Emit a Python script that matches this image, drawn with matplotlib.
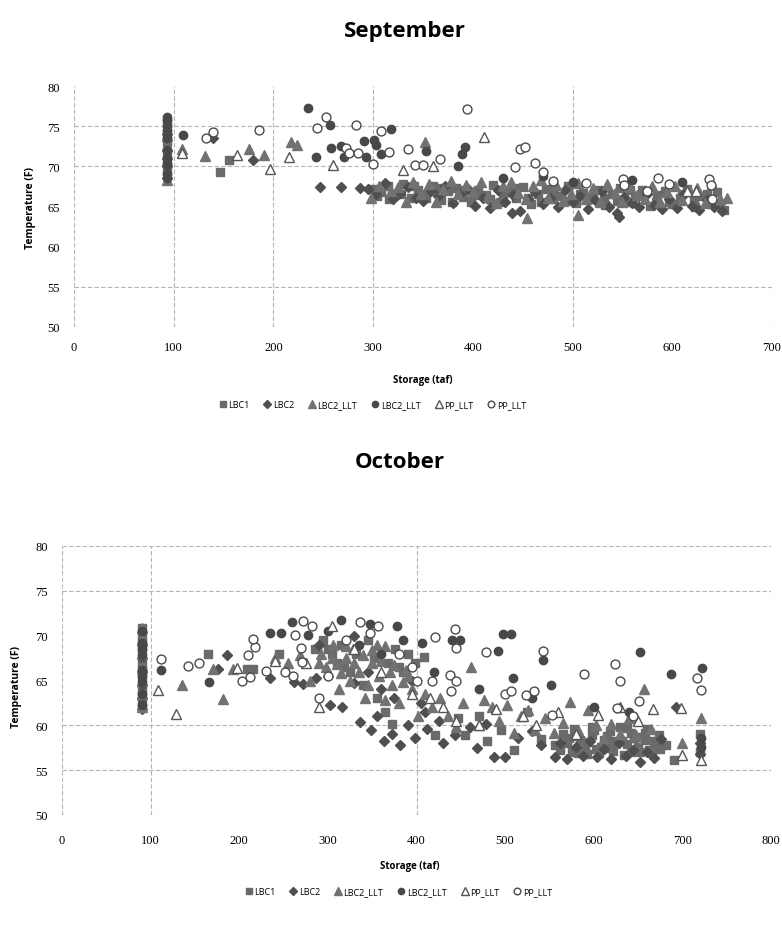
import numpy as np
import matplotlib
matplotlib.use("Agg")
import matplotlib.pyplot as plt

labels = ["LBC1", "LBC2", "LBC2_LLT", "LBC2_LLT", "PP_LLT", "PP_LLT"]

# ---------------- September ----------------
sep_sq_x = [93, 93, 93, 93, 93, 93, 146, 155,
            300, 308, 315, 322, 330, 338, 345, 352, 360, 368, 375, 383, 390, 398, 405, 413, 420, 428,
            435, 443, 450, 458, 465, 473, 480, 488, 495, 503, 510, 518, 525, 533, 540, 548, 555, 563,
            570, 578, 585, 593, 600, 608, 615, 623, 630, 638, 645, 652,
            304, 316, 328, 341, 353, 366, 379, 392, 404, 417, 430, 442, 455, 468, 481, 494, 507, 520,
            532, 545, 558, 571, 584, 597, 610, 622, 635, 648]
sep_sq_y = [69.5, 70.5, 71.8, 73.0, 74.0, 75.5, 69.3, 70.8,
            67.2, 66.8, 67.5, 66.4, 67.8, 66.0, 67.1, 66.5, 67.6, 65.8, 66.9, 67.3, 66.2, 65.6, 67.0, 66.4, 67.7, 65.5,
            66.8, 66.1, 67.4, 65.3, 66.6, 67.2, 65.9, 66.3, 67.5, 65.4, 66.7, 66.0, 67.1, 65.2, 66.5, 67.3, 65.6, 66.2,
            67.0, 65.1, 66.4, 66.9, 65.3, 66.1, 67.2, 65.0, 66.3, 65.7, 66.8, 64.6,
            66.3, 65.9, 66.6, 67.5, 66.0, 67.3, 65.6, 67.0, 66.4, 65.9, 66.6, 67.3, 66.1, 65.5, 67.0, 65.7, 66.5, 65.9,
            66.0, 65.7, 67.0, 66.4, 65.6, 65.5, 66.6, 66.0, 66.5, 65.3]

sep_di_x = [93, 93, 93, 139, 180, 247, 268,
            287, 295, 303, 312, 320, 327, 335, 343, 350, 358, 365, 372, 380, 387, 395, 402, 410, 417,
            425, 432, 439, 440, 447, 455, 462, 470, 477, 485, 492, 500, 507, 515, 522, 530, 537, 545, 547,
            552, 560, 567, 575, 582, 590, 597, 605, 612, 620, 627, 635, 642, 650]
sep_di_y = [68.5, 70.0, 74.0, 73.5, 70.8, 67.4, 67.4,
            67.3, 67.2, 66.5, 67.9, 65.9, 66.7, 67.4, 66.1, 65.7, 66.9, 66.3, 67.5, 65.4, 66.6, 67.2, 65.1, 66.0, 64.8,
            67.0, 65.6, 64.2, 66.4, 64.4, 65.9, 66.8, 65.3, 66.1, 64.9, 67.1, 65.5, 66.3, 64.7, 65.8, 66.9, 65.0, 64.2, 63.7,
            66.2, 65.4, 64.9, 66.6, 65.2, 64.7, 65.9, 64.8, 66.5, 65.1, 64.6, 65.8, 65.0, 64.5]

sep_tri_x = [93, 93, 93, 93, 108, 131, 176, 191, 218, 224, 352,
             298, 306, 318, 325, 333, 340, 348, 356, 363, 370, 378, 385, 393, 400, 408, 415, 423, 430,
             438, 445, 453, 454, 460, 468, 475, 483, 490, 498, 505, 505, 513, 520, 528, 535, 543, 550, 558,
             565, 573, 580, 588, 595, 603, 610, 618, 625, 633, 640, 648, 655]
sep_tri_y = [68.3, 71.5, 72.5, 73.8, 72.2, 71.3, 72.2, 71.4, 73.0, 72.6, 73.0,
             66.0, 67.6, 66.9, 67.4, 65.6, 68.0, 66.6, 67.8, 65.5, 67.2, 68.2, 66.5, 67.7, 66.8, 68.1, 66.3, 65.4, 67.6,
             68.0, 66.7, 65.9, 63.6, 67.5, 68.3, 66.0, 67.7, 65.7, 66.6, 67.9, 63.9, 65.9, 67.3, 65.5, 67.8, 66.7, 65.6, 67.4,
             66.4, 65.9, 67.6, 65.6, 66.8, 67.5, 65.8, 66.9, 67.3, 65.4, 67.8, 65.9, 66.1]

sep_ci_x = [93, 93, 93, 93, 93, 93, 93, 93, 93, 93, 109, 235, 243, 257, 258, 268, 271, 291, 293, 301, 303, 308,
            318, 353, 392, 389, 385, 470, 430, 500, 560, 610]
sep_ci_y = [68.5, 69.0, 70.3, 71.0, 72.0, 73.5, 74.5, 75.0, 75.8, 76.2, 73.9, 77.2, 71.2, 75.1, 72.3, 72.5, 71.2,
            73.1, 71.2, 73.3, 72.6, 71.5, 74.6, 71.9, 72.4, 71.5, 70.1, 68.8, 68.5, 68.0, 68.3, 68.1]

sep_otri_x = [108, 163, 197, 216, 260, 411, 615, 624, 330, 360]
sep_otri_y = [71.6, 71.4, 69.7, 71.2, 70.2, 73.6, 66.9, 66.9, 69.5, 70.0]

sep_oci_x = [132, 139, 186, 244, 253, 273, 276, 285, 283, 300, 308, 316, 335, 342, 350, 367, 394,
             447, 452, 462, 470, 442, 480, 513, 551, 552, 586, 575, 597, 637, 639, 640]
sep_oci_y = [73.5, 74.3, 74.5, 74.8, 76.2, 72.3, 71.6, 71.6, 75.2, 70.3, 74.4, 71.8, 72.2, 70.2, 70.2,
             70.9, 77.1, 72.2, 72.4, 70.4, 69.3, 69.9, 68.2, 67.9, 68.4, 67.7, 68.6, 66.9, 67.8, 68.4, 67.7, 65.9]

# ---------------- October ----------------
oct_sq_x = [90, 90, 90, 90, 90, 90, 90, 90, 90, 90, 165, 209, 216, 245,
            285, 295, 300, 305, 310, 315, 318, 325, 332, 340, 345, 352, 355, 365, 368, 372, 376, 380,
            385, 390, 398, 408, 421, 447, 455, 470, 480, 495, 510, 525, 540, 556, 565, 575, 585, 592,
            600, 608, 615, 622, 630, 638, 645, 652, 660, 668, 675, 682, 691, 720, 720,
            570, 580, 590, 598, 606, 614, 624, 634, 642, 650, 658, 666, 674,
            562, 572, 582, 592, 602, 612, 622, 632, 642, 652, 662, 672, 578, 598, 618, 638, 658]
oct_sq_y = [62.5, 63.3, 64.0, 65.5, 66.2, 67.0, 68.5, 69.2, 70.0, 70.8, 67.9, 66.3, 66.3, 68.0,
            68.5, 69.5, 68.5, 68.0, 67.0, 69.0, 66.5, 66.0, 68.0, 64.5, 69.5, 67.5, 63.0, 61.5, 67.0, 60.2, 68.5, 66.5,
            66.0, 68.0, 67.0, 67.6, 58.9, 60.8, 58.9, 61.0, 58.2, 59.5, 57.2, 61.5, 58.5, 57.8, 59.0, 57.0, 58.4, 56.8,
            59.5, 57.6, 58.8, 57.1, 59.8, 57.9, 58.6, 57.0, 59.6, 58.2, 57.4, 57.8, 56.1, 57.0, 59.0,
            58.0, 58.8, 57.6, 58.9, 56.9, 57.5, 58.3, 56.7, 59.2, 57.6, 58.4, 56.9, 58.9,
            57.2, 58.6, 56.9, 58.1, 57.4, 58.4, 57.8, 58.2, 57.0, 58.7, 57.3, 57.9, 59.6, 59.8, 59.4, 59.7, 59.2]

oct_di_x = [90, 90, 90, 90, 90, 90, 176, 186, 235, 262, 272, 287, 290, 302, 316, 329, 330, 336, 345, 349, 355,
            360, 363, 372, 375, 381, 390, 395, 398, 405, 410, 412, 425, 430, 443, 460, 468, 478, 488,
            500, 515, 530, 541, 556, 562, 570, 580, 588, 596, 604, 612, 620, 628, 636, 644, 652, 660,
            668, 676, 693, 720, 720]
oct_di_y = [61.8, 63.0, 64.5, 66.0, 67.5, 69.0, 66.3, 67.8, 65.3, 64.8, 64.6, 65.3, 69.0, 62.3, 62.0, 64.7, 70.0,
            60.4, 66.0, 59.5, 61.0, 64.0, 58.3, 59.0, 63.0, 57.8, 60.0, 65.0, 58.6, 62.5, 61.5, 59.6, 60.5, 58.0,
            58.9, 59.8, 57.5, 60.2, 56.5, 56.5, 58.6, 59.4, 57.8, 56.5, 58.0, 56.3, 57.6, 56.6, 58.2, 56.5, 57.4,
            56.2, 58.0, 56.6, 57.3, 55.9, 57.0, 56.4, 58.5, 62.1, 58.0, 56.8]

oct_tri_x = [90, 90, 90, 90, 90, 90, 90, 135, 170, 182, 193, 240, 255, 268, 280, 292, 298, 306, 312,
             320, 328, 335, 342, 350, 358, 365, 372, 380, 388, 395, 402, 410, 418, 426, 435, 445, 452,
             461, 470, 476, 485, 493, 502, 510, 518, 526, 534, 545, 555, 565, 573, 582, 594, 603, 612,
             620, 630, 640, 648, 657, 665, 700, 721, 310, 325, 340, 355, 370, 385,
             290, 300, 315, 330, 345, 360, 375, 390, 305, 320, 350, 365]
oct_tri_y = [62.0, 63.5, 65.0, 66.5, 68.0, 69.5, 70.8, 64.5, 66.3, 62.9, 66.3, 67.5, 67.0, 67.8, 65.0, 68.0,
             66.5, 69.0, 64.0, 67.5, 68.5, 66.0, 63.0, 67.0, 65.5, 68.8, 64.5, 62.5, 66.2, 64.0, 61.0, 63.5,
             62.0, 63.0, 61.0, 59.8, 62.5, 66.5, 60.0, 62.8, 62.1, 60.5, 62.3, 59.2, 61.0, 61.7, 59.5, 60.8,
             59.2, 60.3, 62.6, 59.5, 61.7, 60.0, 58.6, 60.2, 59.0, 60.8, 58.9, 64.1, 59.6, 58.0, 60.8,
             66.8, 65.0, 67.8, 69.0, 66.0, 64.8,
             67.0, 66.0, 65.8, 67.0, 64.5, 67.2, 66.7, 65.5, 67.5, 68.8, 68.4, 62.8]

oct_ci_x = [90, 90, 90, 90, 90, 90, 90, 90, 90, 112, 166, 235, 247, 259, 278, 315, 347, 378, 406, 440, 449, 492,
            498, 507, 509, 543, 552, 652, 687, 722, 721, 721, 300, 335, 360, 385, 420, 470, 530, 600, 640]
oct_ci_y = [62.3, 63.5, 64.8, 65.5, 66.2, 67.8, 68.5, 69.2, 70.5, 66.2, 64.8, 70.3, 70.3, 71.5, 70.1, 71.8, 71.3,
            71.1, 69.2, 69.5, 69.5, 68.3, 70.2, 70.2, 65.3, 67.3, 64.5, 68.2, 65.7, 66.4, 58.6, 57.6, 70.5, 69.0,
            68.0, 69.5, 66.0, 64.0, 63.0, 62.0, 61.5]

oct_otri_x = [108, 129, 198, 305, 240, 330, 360, 395, 415, 430, 445, 470, 490, 520, 535, 560, 580, 605,
              630, 650, 667, 699, 700, 721, 290, 275]
oct_otri_y = [63.9, 61.3, 66.4, 71.1, 67.2, 68.5, 66.0, 63.5, 63.0, 62.0, 60.5, 60.0, 61.8, 61.0, 60.0,
              61.5, 59.0, 61.2, 62.0, 60.5, 61.8, 61.9, 56.7, 56.1, 62.0, 67.0]

oct_oci_x = [112, 142, 155, 203, 212, 218, 216, 210, 230, 252, 261, 263, 272, 282, 270, 271, 336, 357,
             347, 421, 443, 445, 438, 445, 439, 417, 478, 543, 500, 507, 524, 533, 589, 624, 630, 651,
             553, 626, 644, 717, 721, 300, 320, 290, 380, 395, 400]
oct_oci_y = [67.4, 66.6, 67.0, 65.0, 65.4, 68.7, 69.6, 67.8, 66.1, 65.9, 65.5, 70.1, 71.6, 71.1, 68.6, 67.1,
             71.5, 71.1, 70.3, 69.9, 70.7, 68.6, 65.6, 64.9, 63.8, 64.9, 68.2, 68.3, 63.5, 63.8, 63.4, 63.8,
             65.7, 66.8, 65.0, 62.7, 61.1, 61.9, 61.0, 65.3, 63.9, 65.5, 69.5, 63.0, 68.0, 66.5, 65.0]

sep_series = [(sep_sq_x, sep_sq_y), (sep_di_x, sep_di_y), (sep_tri_x, sep_tri_y),
              (sep_ci_x, sep_ci_y), (sep_otri_x, sep_otri_y), (sep_oci_x, sep_oci_y)]
oct_series = [(oct_sq_x, oct_sq_y), (oct_di_x, oct_di_y), (oct_tri_x, oct_tri_y),
              (oct_ci_x, oct_ci_y), (oct_otri_x, oct_otri_y), (oct_oci_x, oct_oci_y)]

# marker styles: (marker, face, edge, size)
styles = [("s", "#6a6a6a", "#6a6a6a", 6.3),
          ("D", "#4f4f4f", "#4f4f4f", 5.3),
          ("^", "#727272", "#727272", 7.0),
          ("o", "#484848", "#484848", 6.0),
          ("^", "white", "#555555", 7.0),
          ("o", "white", "#4a4a4a", 6.4)]

fig = plt.figure(figsize=(7.82, 9.28), dpi=100)
grid_kw = dict(color="#b5b5b5", lw=0.8, ls=(0, (4, 2)), zorder=0)


def draw(ax, series, xmax, hgrid, vgrid, legend_y, legend_x, xl_pos, yl_pos):
    handles = []
    for (xs, ys), lab, (m, fc, ec, ms) in zip(series, labels, styles):
        h, = ax.plot(xs, ys, ls="none", marker=m, mfc=fc, mec=ec, ms=ms, mew=1.0, label=lab, zorder=3)
        handles.append(h)
    ax.set_xlim(0, xmax)
    ax.set_ylim(50, 80)
    ax.set_xticks(np.arange(0, xmax + 1, 100))
    ax.set_yticks(np.arange(50, 81, 5))
    for s in ax.spines.values():
        s.set_visible(False)
    for v in hgrid:
        ax.axhline(v, **grid_kw)
    for v in vgrid:
        ax.axvline(v, **grid_kw)
    ax.tick_params(length=0, pad=10)
    for t in ax.get_xticklabels() + ax.get_yticklabels():
        t.set_fontfamily("Liberation Serif")
        t.set_fontsize(9)
    fig.text(xl_pos[0] / 782, 1 - xl_pos[1] / 928, "Storage (taf)", ha="center", va="center",
             family="Open Sans", weight="bold", fontsize=7)
    fig.text(yl_pos[0] / 782, 1 - yl_pos[1] / 928, "Temperature (F)", ha="center", va="center",
             rotation=90, family="Open Sans", weight="bold", fontsize=7.5)
    fig.legend(handles, labels, loc="center", ncol=6, frameon=False,
               bbox_to_anchor=(legend_x / 782, 1 - legend_y / 928),
               prop=dict(family="Open Sans", size=6.5), handletextpad=0.1,
               columnspacing=1.5, handlelength=1.0, markerscale=0.75)


ax1 = fig.add_axes([74 / 782, 1 - 328 / 928, 698 / 782, 241 / 928])
draw(ax1, sep_series, 700, [50, 55, 70, 75], [0, 100, 200, 300, 500, 700],
     406, 372, (423, 380), (31, 208))
fig.text(405 / 782, 1 - 32 / 928, "September", ha="center", va="center",
         family="Open Sans", weight="bold", fontsize=16)

ax2 = fig.add_axes([62 / 782, 1 - 816 / 928, 709 / 782, 269 / 928])
draw(ax2, oct_series, 800, [50, 55, 60, 75, 80], [0, 100, 400, 800],
     893, 398, (410, 867), (17, 687))
ax2.tick_params(axis="x", pad=14)
fig.text(400 / 782, 1 - 463 / 928, "October", ha="center", va="center",
         family="Open Sans", weight="bold", fontsize=16)

fig.savefig("out.png", dpi=100)
